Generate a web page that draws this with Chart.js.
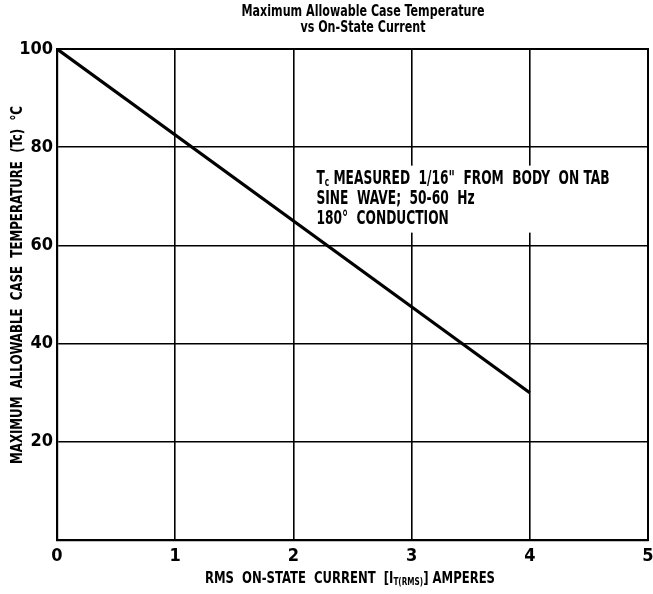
<!DOCTYPE html>
<html>
<head>
<meta charset="utf-8">
<script src="https://cdn.jsdelivr.net/npm/chart.js@4"></script>
<style>
  html, body { margin: 0; padding: 0; background: #fff; }
  #wrap { width: 653px; height: 594px; position: relative; }
</style>
</head>
<body>
<div id="wrap"><canvas id="c" width="653" height="594"></canvas></div>
<script>
// Derating curve: maximum case temperature vs RMS on-state current
const currentAmps = [0, 4];
const caseTempC = [100, 30];
const xTickValues = [0, 1, 2, 3, 4, 5];
const yTickValues = [0, 20, 40, 60, 80, 100];
const titleLines = ['Maximum Allowable Case Temperature', 'vs On-State Current'];
// axis titles and note lines as pieces of [text, isSubscript]
const yAxisTitle = [['MAXIMUM  ALLOWABLE  CASE  TEMPERATURE  (Tc)  °C', false]];
const xAxisTitle = [['RMS  ON-STATE  CURRENT  [I', false], ['T(RMS)', true], ['] AMPERES', false]];
const noteLines = [
  [['T', false], ['c', true], [' MEASURED  1/16"  FROM  BODY  ON TAB', false]],
  [['SINE  WAVE;  50-60  Hz', false]],
  [['180°  CONDUCTION', false]]
];

const FONT = "'Liberation Sans Narrow', 'DejaVu Sans Condensed', 'Arial Narrow', sans-serif";
const INK = '#000';

// Width of a run of text pieces at a given size
function piecesWidth(ctx, pieces, size) {
  const sub = Math.round(size * 0.62);
  return pieces.reduce((acc, [t, s]) => {
    ctx.font = `bold ${s ? sub : size}px ${FONT}`;
    return acc + ctx.measureText(t).width;
  }, 0);
}

// Draws text pieces from x = 0, squeezed horizontally by sx
function drawPieces(ctx, pieces, size, sx) {
  const sub = Math.round(size * 0.62);
  ctx.save();
  ctx.scale(sx, 1);
  let cx = 0;
  pieces.forEach(([t, s]) => {
    ctx.font = `bold ${s ? sub : size}px ${FONT}`;
    ctx.fillText(t, cx, s ? size * 0.22 : 0);
    cx += ctx.measureText(t).width;
  });
  ctx.restore();
}

// Places a text run so it spans `width` pixels, anchored at (x, y) left-middle
function fitText(ctx, pieces, x, y, size, width, rotate) {
  const natural = piecesWidth(ctx, pieces, size);
  const sx = width / natural;
  ctx.save();
  ctx.translate(x, y);
  if (rotate) ctx.rotate(-Math.PI / 2);
  ctx.textBaseline = 'middle';
  ctx.textAlign = 'left';
  drawPieces(ctx, pieces, size, sx);
  ctx.restore();
}

const textPlugin = {
  id: 'chartText',
  beforeDatasetsDraw(chart) {
    const { ctx, scales } = chart;
    const nx = scales.x.getPixelForValue(2.195);
    const ny = scales.y.getPixelForValue(73.6);
    ctx.save();
    ctx.fillStyle = '#fff';
    ctx.fillRect(nx - 4, ny - 13, 301, 67);
    ctx.fillStyle = INK;
    const squeeze = 293 / piecesWidth(ctx, noteLines[0], 20);
    noteLines.forEach((pieces, i) => {
      const w = piecesWidth(ctx, pieces, 20) * squeeze;
      fitText(ctx, pieces, nx, ny + i * 20, 20, w, false);
    });
    ctx.restore();
  },
  afterDraw(chart) {
    const { ctx, chartArea: a } = chart;
    ctx.save();
    ctx.fillStyle = INK;
    // header, two centred lines
    const hx = 363;
    const w0 = 243;
    const scale0 = w0 / piecesWidth(ctx, [[titleLines[0], false]], 15);
    const w1 = piecesWidth(ctx, [[titleLines[1], false]], 15) * scale0;
    fitText(ctx, [[titleLines[0], false]], hx - w0 / 2, 12, 15, w0, false);
    fitText(ctx, [[titleLines[1], false]], hx - w1 / 2, 28, 15, w1, false);
    // axis titles
    fitText(ctx, xAxisTitle, 205, a.bottom + 39, 16, 290, false);
    fitText(ctx, yAxisTitle, 18, 464, 16, 358, true);
    // plot frame
    ctx.strokeStyle = INK;
    ctx.lineWidth = 2;
    ctx.strokeRect(a.left, a.top, a.right - a.left, a.bottom - a.top);
    ctx.restore();
  }
};

new Chart(document.getElementById('c'), {
  type: 'scatter',
  data: {
    datasets: [{
      data: currentAmps.map((x, i) => ({ x, y: caseTempC[i] })),
      showLine: true,
      borderColor: INK,
      borderWidth: 3.2,
      pointRadius: 0,
      fill: false
    }]
  },
  options: {
    responsive: false,
    animation: false,
    devicePixelRatio: 1,
    layout: { padding: { top: 49, right: 5, left: 0, bottom: 0 } },
    plugins: { legend: { display: false }, tooltip: { enabled: false }, title: { display: false } },
    scales: {
      x: {
        type: 'linear', min: 0, max: 5,
        afterBuildTicks(scale) { scale.ticks = xTickValues.map(v => ({ value: v })); },
        afterFit(scale) { scale.height = 54; scale.paddingLeft = 0; scale.paddingRight = 0; },
        grid: { color: INK, lineWidth: 1.6, drawTicks: false },
        border: { color: INK, width: 2.2 },
        ticks: { color: INK, padding: 6, maxRotation: 0, font: { family: FONT, size: 18, weight: 'bold' } }
      },
      y: {
        type: 'linear', min: 0, max: 100,
        afterBuildTicks(scale) { scale.ticks = yTickValues.map(v => ({ value: v })); },
        afterFit(scale) { scale.width = 57; scale.paddingTop = 0; scale.paddingBottom = 0; },
        grid: { color: INK, lineWidth: 1.6, drawTicks: false },
        border: { color: INK, width: 2.2 },
        ticks: {
          color: INK, padding: 4,
          font: { family: FONT, size: 18, weight: 'bold' },
          callback: v => (v === 0 ? '' : String(v))
        }
      }
    }
  },
  plugins: [textPlugin]
});
</script>
</body>
</html>
